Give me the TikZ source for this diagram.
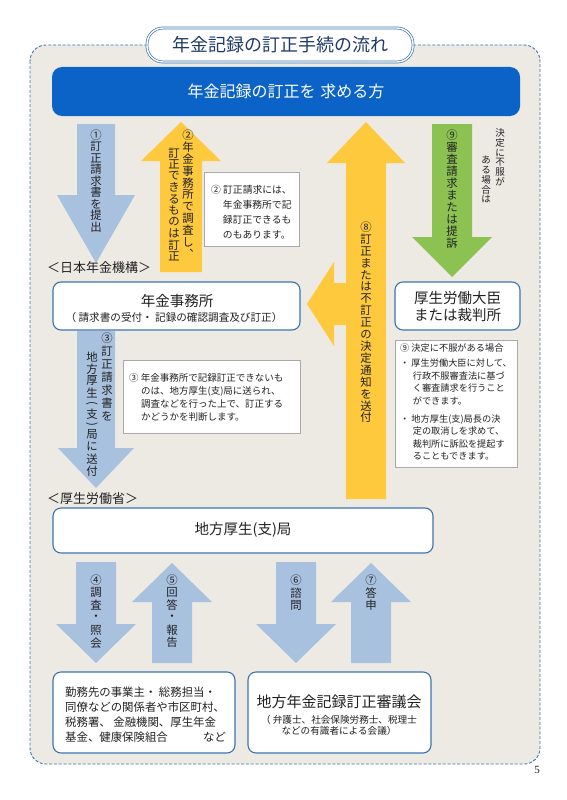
\documentclass[tikz,border=0pt]{standalone}
\usepackage{graphicx}
\usepackage{fontspec}
\setmainfont{Noto Sans CJK JP}
\newfontfamily\numfont{Liberation Serif}
\definecolor{bgbeige}{HTML}{EDEAE4}
\definecolor{dashblue}{HTML}{3F78B0}
\definecolor{barblue}{HTML}{0C63C7}
\definecolor{lblue}{HTML}{A8C1DF}
\definecolor{ayellow}{HTML}{FFC93D}
\definecolor{agreen}{HTML}{8CC252}
\definecolor{boxline}{HTML}{3A75AE}
\definecolor{notegray}{HTML}{A9A9A9}
\definecolor{ink}{HTML}{222222}
\definecolor{titleink}{HTML}{1F3A68}
\makeatletter
\def\tate@lp{︵}\def\tate@rp{︶}
\newcommand\tate@cell[2]{\hbox to 1.2em{\hss\vbox to \dimexpr #1\relax{\vss\hbox{#2}\vss}\hss}}
\newcommand\tatecol[2][12]{\vbox{\offinterlineskip\@tfor\tate@c:=#2\do{\ifx\tate@c\tate@lp\tate@cell{#1pt*3/4}{\rotatebox{-90}{(}}\else\ifx\tate@c\tate@rp\tate@cell{#1pt*3/4}{\rotatebox{-90}{)}}\else\tate@cell{#1pt}{\tate@c}\fi\fi}}}
\makeatother
\newcommand\VArr[7]{\fill[#1] (#2-#4,#3) -- (#2+#4,#3) -- (#2+#4,#6) -- (#2+#5,#6) -- (#2,#7) -- (#2-#5,#6) -- (#2-#4,#6) -- cycle;}
\tikzset{
 frame/.style={draw=dashblue, dash pattern=on 3pt off 1.8pt, line width=0.9pt, fill=bgbeige, rounded corners=16pt},
 titlebox/.style={draw=dashblue, double=white, double distance=1.4pt, line width=0.7pt, fill=white, rounded corners=16pt, text=titleink, font=\fontsize{18}{20}\selectfont, inner sep=0pt},
 bluebar/.style={fill=barblue, rounded corners=10pt, text=white, font=\fontsize{16}{18}\selectfont, inner sep=0pt},
 mainbox/.style={draw=boxline, line width=1.1pt, fill=white, rounded corners=8pt, inner sep=0pt},
 notebox/.style={draw=notegray, line width=0.6pt, fill=white},
 vtext/.style={inner sep=0pt, anchor=north, text=ink, font=\fontsize{11.4}{11.4}\selectfont},
 vsmall/.style={inner sep=0pt, anchor=north, text=ink, font=\fontsize{9.5}{9.5}\selectfont},
 notetext/.style={inner sep=0pt, anchor=north west, align=left, text=ink},
 bigtext/.style={inner sep=0pt, text=ink, font=\fontsize{14.5}{17}\selectfont, align=center},
 grouplabel/.style={inner sep=0pt, anchor=west, text=ink, font=\fontsize{13}{14}\selectfont}
}
\begin{document}
\begin{tikzpicture}[x=1pt,y=-1pt]
\path[use as bounding box] (0,0) rectangle (566,800);
\draw[frame] (30,45) rectangle (540,764);
\node[titlebox, minimum width=266pt, minimum height=34pt] (title) at (280,45) {年金記録の訂正手続の流れ};
\node[bluebar, minimum width=468pt, minimum height=49pt] (bar) at (286,91.5) {年金記録の訂正を\hspace{0.3em}求める方};
% arrows
\VArr{lblue}{96}{124}{19}{39}{195}{263}
\VArr{ayellow}{181}{272}{21}{40}{161}{122}
\VArr{ayellow}{366}{499}{20}{39}{163}{122}
\fill[ayellow] (350,283) -- (334,283) -- (334,262) -- (307,304) -- (334,346) -- (334,325) -- (350,325) -- cycle;
\VArr{agreen}{452}{124}{20}{40}{237}{277}
\VArr{lblue}{96}{331}{19}{38}{448}{488}
\VArr{lblue}{96}{562}{20}{40}{624}{663}
\VArr{lblue}{172}{663}{20}{40}{602}{563}
\VArr{lblue}{296}{562}{20}{40}{624}{663}
\VArr{lblue}{371}{663}{20}{40}{602}{563}
% arrow texts
\node[vtext] (t1) at (96,129.2) {\tatecol[11.5]{①訂正請求書を提出}};
\node[vtext] (t2a) at (188,129) {\tatecol[11.9]{②年金事務所で調査し︑}};
\node[vtext] (t2b) at (174,147) {\tatecol[11.5]{訂正できるものは訂正}};
\node[vtext] (t8) at (366,221) {\tatecol[11.9]{⑧訂正または不訂正の決定通知を送付}};
\node[vtext] (t9) at (452,129) {\tatecol[12]{⑨審査請求または提訴}};
\node[vsmall] (t9a) at (500,128) {\tatecol[9.8]{決定に不服が}};
\node[vsmall] (t9b) at (486,155) {\tatecol[9.8]{ある場合は}};
\node[vtext] (t3a) at (107,331.5) {\tatecol[13]{③訂正請求書を}};
\node[vtext] (t3b) at (92,350.6) {\tatecol[12]{地方厚生︵支︶局に送付}};
\node[vtext] (t4) at (96,573.75) {\tatecol[12.5]{④調査・照会}};
\node[vtext] (t5) at (172,573.75) {\tatecol[12.5]{⑤回答・報告}};
\node[vtext] (t6) at (296,573.75) {\tatecol[12.5]{⑥諮問}};
\node[vtext] (t7) at (371,573.75) {\tatecol[12.5]{⑦答申}};
% group labels
\node[grouplabel] (g1) at (47,268) {＜日本年金機構＞};
\node[grouplabel] (g2) at (47,499) {＜厚生労働省＞};
% main boxes
\node[mainbox, minimum width=247pt, minimum height=48pt] (nenkin) at (176.5,306) {};
\node[bigtext] (nenkinA) at (177,301) {年金事務所};
\node[inner sep=0pt, text=ink, font=\fontsize{10.6}{12}\selectfont] (nenkinB) at (174,317) {（ 請求書の受付・ 記録の確認調査及び訂正）};
\node[mainbox, minimum width=125pt, minimum height=48pt] (kosei) at (457.5,306) {};
\node[bigtext] (koseiT) at (457.5,306.5) {厚生労働大臣\\または裁判所};
\node[mainbox, minimum width=380pt, minimum height=45pt] (chiho) at (243,530.5) {};
\node[bigtext] (chihoT) at (243,530) {地方厚生(支)局};
\node[mainbox, minimum width=182pt, minimum height=81pt] (kankei) at (144,712.5) {};
\node[notetext, font=\fontsize{11.4}{15}\selectfont] (kankeiT) at (65,686.9) {勤務先の事業主・ 総務担当・\\同僚などの関係者や市区町村、\\税務署、 金融機関、厚生年金\\基金、健康保険組合\hspace{3.1em}など};
\node[mainbox, minimum width=183pt, minimum height=81pt] (shingi) at (339.5,712.5) {};
\node[inner sep=0pt, text=ink, font=\fontsize{15}{17}\selectfont] (shingiA) at (339,702) {地方年金記録訂正審議会};
\node[inner sep=0pt, text=ink, font=\fontsize{9.6}{11}\selectfont, align=center] (shingiB) at (339,725.5) {（ 弁護士、社会保険労務士、税理士\\などの有識者による会議）};
% notes
\draw[notebox] (204,172) rectangle (299,246);
\node[notetext, font=\fontsize{9.8}{15}\selectfont] (n2) at (211,185.5) {② 訂正請求には、\\\hspace*{1.2em}年金事務所で記\\\hspace*{1.2em}録訂正できるも\\\hspace*{1.2em}のもあります。};
\draw[notebox] (123,360) rectangle (300,433);
\node[notetext, font=\fontsize{9.5}{13}\selectfont] (n3) at (129,373.7) {③ 年金事務所で記録訂正できないも\\\hspace*{1.25em}のは、地方厚生(支)局に送られ、\\\hspace*{1.25em}調査などを行った上で、訂正する\\\hspace*{1.25em}かどうかを判断します。};
\draw[notebox] (395,340) rectangle (517,467);
\node[notetext, font=\fontsize{9.2}{12.5}\selectfont] (n9) at (400,343.8) {⑨ 決定に不服がある場合\\[2.5pt]・ 厚生労働大臣に対して、\\\hspace*{1.37em}行政不服審査法に基づ\\\hspace*{1.37em}く審査請求を行うこと\\\hspace*{1.37em}ができます。\\[5.5pt]・ 地方厚生(支)局長の決\\\hspace*{1.37em}定の取消しを求めて、\\\hspace*{1.37em}裁判所に訴訟を提起す\\\hspace*{1.37em}ることもできます。};
\node[inner sep=0pt, text=ink, font=\numfont\fontsize{11}{12}\selectfont] (page) at (537,770) {5};
\end{tikzpicture}
\end{document}
